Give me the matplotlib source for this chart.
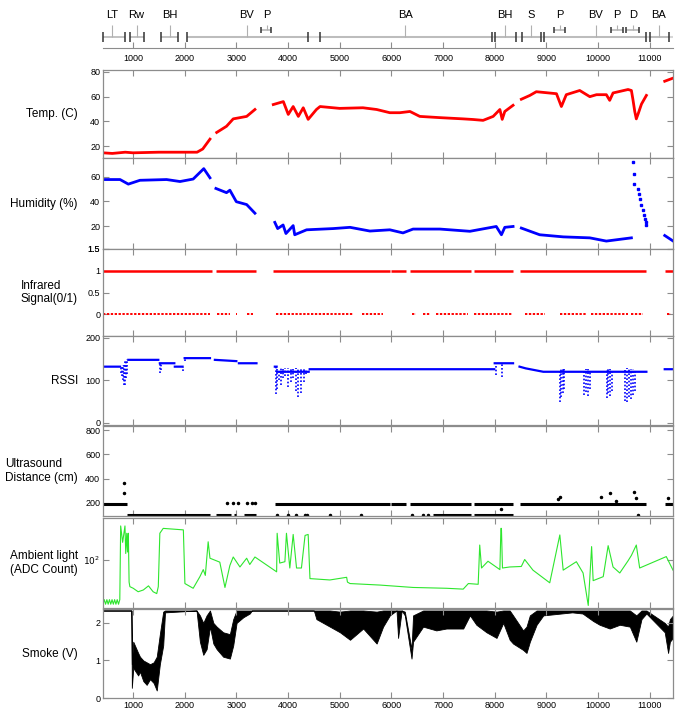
import numpy as np
import matplotlib.pyplot as plt

plt.rcParams['font.family'] = ['Liberation Sans', 'DejaVu Sans']

nan = np.nan

# activity annotation track (top)
ann_labels = ['LT', 'Rw', 'BH', 'BV', 'P', 'BA', 'BH', 'S', 'P', 'BV', 'P', 'D', 'BA']
ann_start = [420, 940, 1540, 2040, 3470, 4615, 8000, 8520, 9140, 8950, 10255, 10550, 11000]
ann_end = [845, 1210, 1870, 4385, 3680, 7940, 8410, 8890, 9365, 10935, 10485, 10800, 11370]
ann_mid = [594, 1070, 1715, 3205, 3585, 6270, 8195, 8710, 9260, 9955, 10360, 10670, 11175]
ann_level = [0, 0, 0, 0, 1, 0, 0, 0, 1, 0, 1, 1, 0]

# temperature
temp_x = [420, 600, 850, 1000, 1500, 2240, 2350, 2490, nan, 2620, 2810, 2940, 3200, 3360, nan,
          3715, 3910, 4005, 4100, 4200, 4295, 4390, 4550, 4620, 5000, 5450, 5715, 5970, 6165,
          6360, 6550, 6940, 7390, 7580, 7775, 7970, 8100, 8145, 8195, 8355, nan,
          8515, 8680, 8805, 9195, 9290, 9385, 9645, 9840, 9970, 10160, 10225, 10290, 10580,
          10645, 10675, 10710, 10740, 10775, 10840, 10935, nan, 11290, 11450]
temp_y = [14.5, 14, 15, 14.5, 15, 15, 17.6, 25.6, nan, 31, 36, 42, 44, 49.6, nan,
          53.6, 56, 45.6, 52, 44, 51, 41.6, 49.6, 52, 50.5, 51, 49.6, 47, 47,
          48, 44, 43, 42, 41.5, 40.8, 44, 49.6, 41.6, 48, 53, nan,
          57.9, 61, 64, 62.4, 52, 61.6, 65, 60, 61.6, 61.6, 57, 63, 65.8,
          65, 57.6, 48, 42, 46, 54, 61, nan, 72.5, 75]

# humidity
hum_x = [420, 750, 910, 1135, 1650, 1910, 2165, 2370, 2490, nan, 2605, 2810, 2875, 3000, 3200, 3360, nan,
         3745, 3800, 3905, 3960, 4100, 4130, 4360, 4875, 5200, 5585, 5970, 6225, 6420, 6940, 7520,
         8030, 8130, 8195, 8355, nan, 8515, 8870, 9325, 9840, 10160, 10645, nan, 11290, 11450]
hum_y = [57.6, 57.6, 53.9, 57, 57.6, 56, 58, 66.4, 59, nan, 50.4, 47, 49, 39.7, 37.4, 30.4, nan,
         23, 18, 20.9, 14, 20.4, 13, 17, 18, 19, 16, 17, 14.5, 17.6, 17.6, 15.8,
         19.7, 13, 19, 19.7, nan, 18.4, 13, 11.3, 10.5, 7.9, 10.5, nan, 12.4, 8]
hum_sp_x = [10675, 10690, 10700, 10780, 10800, 10820, 10840, 10860, 10880, 10900, 10920, 10935]
hum_sp_y = [71.7, 62, 54.4, 50, 46, 42, 37, 33, 29, 26, 23, 20.9]

# infrared on / off runs
ir_on_start = [420, 2605, 3715, 6000, 6360, 7600, 8485, 11290]
ir_on_end = [2520, 3390, 5970, 6290, 7550, 8355, 10936, 11450]
ir_off_start = [420, 2625, 2990, 3200, 3760, 5425, 6390, 6610, 6870, 7600, 8580, 9260, 9870, 10645, 11330]
ir_off_end = [2500, 2870, 3010, 3330, 5255, 5840, 6480, 6740, 7485, 8340, 8970, 9775, 10580, 10870, 11420]

# RSSI
rssi_x = [420, 750, nan, 910, 1490, nan, 1520, 1800, nan, 1810, 1960, nan, 2000, 2490, nan,
          2585, 3000, nan, 3050, 3390, nan, 3745, 3780, nan, 3790, 4400, nan, 4420, 7990, nan,
          8000, 8355, nan, 8480, 8600, 8940, 10935, nan, 11290, 11450]
rssi_y = [132, 132, nan, 148, 148, nan, 140, 140, nan, 132, 132, nan, 152, 152, nan,
          148, 145, nan, 140, 140, nan, 132, 132, nan, 120, 120, nan, 126, 126, nan,
          140, 140, nan, 132, 128, 120, 120, nan, 126, 126]
rssi_dip_x = [760, 790, 810, 830, 850, 870, 890, 1520, 1540, 1960, 2000,
              3760, 3790, 3820, 3860, 3900, 3950, 4000, 4050, 4100, 4150, 4200, 4250, 4300, 4350,
              8020, 8140, 9260, 9290, 9320, 9350, 9730, 9760, 9800, 9840,
              10170, 10200, 10230, 10260, 10520, 10560, 10600, 10640, 10680, 10720]
rssi_dip_lo = [118, 110, 100, 90, 88, 105, 115, 118, 125, 122, 145,
               68, 80, 100, 90, 105, 110, 85, 95, 105, 75, 60, 70, 95, 115,
               112, 108, 50, 60, 70, 80, 65, 72, 62, 80,
               58, 70, 62, 75, 52, 48, 60, 55, 65, 75]
rssi_dip_hi = [132, 132, 135, 140, 148, 148, 150, 140, 140, 132, 152,
               132, 130, 125, 128, 128, 130, 128, 128, 130, 128, 128, 128, 128, 125,
               140, 140, 126, 126, 126, 126, 120, 126, 126, 120,
               126, 126, 126, 126, 126, 128, 128, 126, 126, 122]

# ultrasound
us_hi_start = [420, 3745, 6000, 6360, 7600, 8485, 11290]
us_hi_end = [880, 5970, 6290, 7550, 8355, 10936, 11450]
us_lo_start = [880, 2605, 2950, 3150, 6800, 7600]
us_lo_end = [2500, 2900, 3000, 3390, 7550, 8355]
us_pt_x = [825, 830, 2810, 2940, 3030, 3200, 3300, 3360, 3780, 4005, 4150, 4330, 4360, 4810, 5420,
           6390, 6620, 6700, 8130, 9230, 9260, 10065, 10225, 10355, 10690, 10730, 10775, 11350]
us_pt_y = [362, 279, 195, 195, 195, 195, 195, 195, 103, 103, 103, 103, 103, 103, 103,
           103, 103, 103, 145, 228, 245, 245, 280, 215, 290, 240, 103, 240]

# ambient light
amb_x = [420, 445, 470, 495, 520, 545, 570, 595, 620, 645, 670, 695, 720, 745, 762, 800, 845, 860,
         880, 895, 910, 925, 940, 1005, 1100, 1200, 1300, 1390, 1460, 1490, 1520, 1585, 1975, 2005,
         2165, 2295, 2360, 2400, 2455, 2490, 2680, 2780, 2875, 2940, 3070, 3200, 3260, 3360, 3780,
         3790, 3840, 3940, 3970, 4035, 4100, 4165, 4260, 4330, 4390, 4425, 4810, 5135, 5150, 5200,
         5780, 6420, 7070, 7390, 7490, 7680, 7710, 7745, 7870, 8100, 8120, 8130, 8150, 8290, 8515,
         8580, 8740, 9065, 9260, 9325, 9580, 9710, 9810, 9875, 9905, 10100, 10195, 10290, 10420,
         10580, 10645, 10740, 10805, 11320, 11450]
amb_y = [36, 40, 36, 40, 36, 40, 36, 40, 36, 40, 36, 40, 36, 40, 219, 150, 219, 116,
         185, 120, 185, 60, 54, 52, 48, 50, 55, 48, 46, 54, 185, 207, 200, 58,
         52, 68, 80, 70, 152, 104, 95, 53, 88, 107, 85, 104, 90, 107, 76,
         185, 93, 96, 185, 83, 180, 83, 83, 176, 180, 65, 63, 67, 60, 58,
         56, 53, 52, 51, 58, 57, 141, 83, 97, 80, 207, 207, 83, 85, 86,
         101, 79, 59, 178, 79, 96, 74, 35, 136, 62, 68, 139, 85, 74,
         98, 111, 141, 83, 108, 79]

# smoke (noise envelope)
smoke_x = [420, 970, 978, 1005, 1100, 1135, 1200, 1265, 1330, 1400, 1460, 1520, 1585, 1620, 2230,
           2295, 2360, 2425, 2490, 2555, 2620, 2745, 2875, 2940, 3005, 3135, 3260, 3300, 4500,
           4550, 4810, 5005, 5200, 5455, 5715, 5840, 5970, 6100, 6130, 6200, 6260, 6390, 6420,
           6615, 6870, 7065, 7390, 7520, 7645, 7840, 8035, 8165, 8290, 8355, 8550, 8615, 8680,
           8810, 8940, 9500, 9700, 9905, 10030, 10225, 10420, 10615, 10740, 10840, 10935, 11290,
           11355, 11390, 11450]
smoke_lo = [2.33, 2.33, 0.27, 0.8, 0.6, 0.7, 0.45, 0.35, 0.5, 0.4, 0.2, 0.9, 1.4, 2.28, 2.33,
            1.5, 1.15, 1.3, 1.9, 1.45, 1.3, 1.1, 1.05, 1.4, 2.0, 2.15, 2.25, 2.33, 2.33,
            2.1, 1.9, 1.75, 1.55, 1.85, 1.45, 1.9, 2.2, 2.33, 1.6, 2.33, 2.2, 1.05, 1.5,
            1.9, 1.8, 1.85, 1.85, 2.2, 1.95, 1.75, 1.6, 2.0, 1.55, 1.45, 1.28, 1.2, 1.5,
            1.95, 2.2, 2.28, 2.25, 2.05, 1.95, 1.85, 1.95, 1.9, 1.5, 2.1, 2.25, 1.75,
            1.2, 1.5, 1.6]
smoke_hi = [2.33, 2.33, 0.9, 1.5, 1.2, 1.1, 1.0, 0.95, 0.9, 0.95, 1.1, 1.7, 2.3, 2.33, 2.33,
            2.2, 2.0, 2.2, 2.33, 2.0, 1.9, 1.75, 1.7, 2.1, 2.33, 2.33, 2.33, 2.33, 2.33,
            2.33, 2.33, 2.3, 2.33, 2.33, 2.3, 2.33, 2.33, 2.33, 2.33, 2.33, 2.3, 1.3, 2.2,
            2.33, 2.33, 2.33, 2.33, 2.33, 2.33, 2.33, 2.3, 2.33, 2.33, 2.2, 1.8, 1.9, 2.2,
            2.33, 2.33, 2.33, 2.33, 2.33, 2.33, 2.33, 2.33, 2.33, 2.2, 2.33, 2.33, 2.0,
            1.9, 2.1, 2.2]

W, H = 680, 713
fig = plt.figure(figsize=(W / 100, H / 100), dpi=100)
xlim = (420, 11450)
xt = list(range(1000, 12000, 1000))
gray = '#8c8c8c'


def add_ax(top, bottom):
    return fig.add_axes([103 / W, 1 - bottom / H, 570 / W, (bottom - top) / H])


def style(ax, last=False):
    ax.set_xlim(*xlim)
    ax.set_xticks(xt)
    for s in ax.spines.values():
        s.set_color(gray)
        s.set_linewidth(0.9)
    ax.tick_params(direction='in', top=True, right=True, length=4, color=gray,
                   labelsize=6.5, labelbottom=last, pad=2)
    ax.tick_params(which='minor', length=0)


def ylab(ax, text):
    b = ax.get_position()
    fig.text(78 / W, b.y0 + b.height / 2, text, ha='right', va='center', fontsize=8.5,
             multialignment='left')


# annotation track
ax0 = fig.add_axes([103 / W, 1 - 48 / H, 570 / W, 46 / H])
ax0.set_xlim(*xlim)
ax0.set_ylim(0, 1)
for k in ['top', 'left', 'right']:
    ax0.spines[k].set_visible(False)
ax0.spines['bottom'].set_color(gray)
ax0.set_xticks(xt)
ax0.set_yticks([])
ax0.tick_params(direction='in', length=4, color=gray, labelsize=6.5, pad=4)
ax0.hlines(0.24, 2040, xlim[1], color='#d6d6d6', lw=1.5)
lev_y = [0.24, 0.39]
for lab, s, e, m, lv in zip(ann_labels, ann_start, ann_end, ann_mid, ann_level):
    y = lev_y[lv]
    h = 0.1 if lv == 0 else 0.065
    ax0.hlines(y, s, e, color='#b8b8b8', lw=1.2, clip_on=False)
    ax0.vlines([s, e], y - h, y + h, color='#333333', lw=1.1, clip_on=False)
    ax0.vlines(m, y, 0.5, color='#b0b0b0', lw=0.8)
    ax0.text(m, 0.6, lab, ha='center', va='bottom', fontsize=8)

panels = [(70, 158), (158, 249), (249, 336), (336, 425), (426, 516), (518, 608), (609, 698)]
axs = [add_ax(t, b) for t, b in panels]
for i, ax in enumerate(axs):
    style(ax, last=(i == len(axs) - 1))

# temperature
ax = axs[0]
ax.plot(temp_x, temp_y, color='red', lw=2.0)
ax.set_ylim(10.3, 81.6)
ax.set_yticks([20, 40, 60, 80])
ylab(ax, 'Temp. (C)')

# humidity
ax = axs[1]
ax.plot(hum_x, hum_y, color='blue', lw=2.0)
ax.plot(hum_sp_x, hum_sp_y, 's', color='blue', ms=1.5)
ax.set_ylim(1.5, 75)
ax.set_yticks([1.5, 20, 40, 60])
ax.set_yticklabels(['1.5', '20', '40', '60'])
ylab(ax, 'Humidity (%)')

# infrared
ax = axs[2]
ax.hlines(np.ones(len(ir_on_start)), ir_on_start, ir_on_end, color='red', lw=1.8)
ax.hlines(np.zeros(len(ir_off_start)), ir_off_start, ir_off_end, color='red', lw=1.4,
          linestyles=[(0, (1.2, 0.8))])
ax.set_ylim(-0.5, 1.5)
ax.set_yticks([0, 0.5, 1, 1.5])
ax.set_yticklabels(['0', '0.5', '1', '1.5'])
ylab(ax, 'Infrared\nSignal(0/1)')

# RSSI
ax = axs[3]
ax.plot(rssi_x, rssi_y, color='blue', lw=1.6)
ax.vlines(rssi_dip_x, rssi_dip_lo, rssi_dip_hi, color='blue', lw=1.2,
          linestyles=[(0, (1, 1.2))])
ax.set_ylim(-5, 204)
ax.set_yticks([0, 100, 200])
ylab(ax, 'RSSI')

# ultrasound
ax = axs[4]
ax.hlines(np.full(len(us_hi_start), 190), us_hi_start, us_hi_end, color='black', lw=2.2)
ax.hlines(np.full(len(us_lo_start), 103), us_lo_start, us_lo_end, color='black', lw=2.2)
ax.plot(us_pt_x, us_pt_y, 'o', color='black', ms=1.5)
ax.set_ylim(91, 833)
ax.set_yticks([200, 400, 600, 800])
ylab(ax, 'Ultrasound\nDistance (cm)')

# ambient light
ax = axs[5]
ax.plot(amb_x, amb_y, color='#2ee62e', lw=0.8)
ax.set_yscale('log')
ax.set_ylim(33, 263)
ax.set_yticks([100])
ax.set_yticklabels(['$10^2$'])
ax.minorticks_off()
ax.set_xticks(xt)
ylab(ax, 'Ambient light\n(ADC Count)')

# smoke
ax = axs[6]
ax.fill_between(smoke_x, smoke_lo, smoke_hi, color='black', lw=0.6)
ax.set_ylim(0, 2.37)
ax.set_yticks([0, 1, 2])
ylab(ax, 'Smoke (V)')

fig.savefig('out.png', dpi=100)
